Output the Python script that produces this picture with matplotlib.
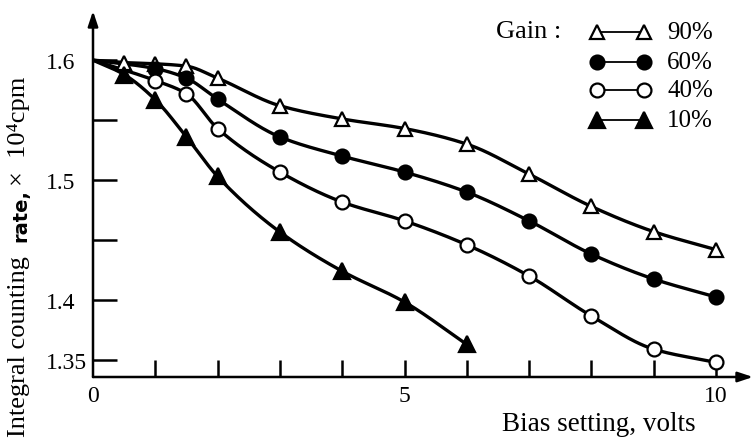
import numpy as np
import matplotlib
matplotlib.use("Agg")
import matplotlib.pyplot as plt
from matplotlib.lines import Line2D

# ---- data ----
x90 = [0, 0.5, 1, 1.5, 2, 3, 4, 5, 6, 7, 8, 9, 10]
y90 = [1.600, 1.598, 1.597, 1.595, 1.585, 1.562, 1.551, 1.543, 1.530, 1.505, 1.478, 1.457, 1.442]
x60 = [0, 1, 1.5, 2, 3, 4, 5, 6, 7, 8, 9, 10]
y60 = [1.600, 1.593, 1.585, 1.5675, 1.536, 1.520, 1.5067, 1.490, 1.466, 1.4383, 1.4175, 1.4025]
x40 = [0, 1, 1.5, 2, 3, 4, 5, 6, 7, 8, 9, 10]
y40 = [1.600, 1.583, 1.572, 1.543, 1.5067, 1.4817, 1.466, 1.446, 1.420, 1.3867, 1.359, 1.348]
x10 = [0, 0.5, 1, 1.5, 2, 3, 4, 5, 6]
y10 = [1.600, 1.588, 1.567, 1.536, 1.503, 1.4567, 1.424, 1.3983, 1.363]
series_labels = ["90%", "60%", "40%", "10%"]
yticks_major = [1.35, 1.4, 1.5, 1.6]
yticks_minor = [1.45, 1.55]
xticks = [1, 2, 3, 4, 5, 6, 7, 8, 9, 10]
xtick_labels = {0: "0", 5: "5", 10: "10"}


def pchip(x, y, n=40):
    x = np.asarray(x, float); y = np.asarray(y, float)
    h = np.diff(x); d = np.diff(y) / h
    m = np.zeros_like(y)
    for k in range(1, len(x) - 1):
        if d[k - 1] * d[k] <= 0:
            m[k] = 0
        else:
            w1 = 2 * h[k] + h[k - 1]; w2 = h[k] + 2 * h[k - 1]
            m[k] = (w1 + w2) / (w1 / d[k - 1] + w2 / d[k])
    m[0] = d[0]; m[-1] = d[-1]
    xs, ys = [], []
    for k in range(len(x) - 1):
        t = np.linspace(0, 1, n, endpoint=False)
        h00 = 2*t**3 - 3*t**2 + 1; h10 = t**3 - 2*t**2 + t
        h01 = -2*t**3 + 3*t**2; h11 = t**3 - t**2
        xs.append(x[k] + t*h[k])
        ys.append(h00*y[k] + h10*h[k]*m[k] + h01*y[k+1] + h11*h[k]*m[k+1])
    xs.append([x[-1]]); ys.append([y[-1]])
    return np.concatenate(xs), np.concatenate(ys)


W, H = 753, 439
fig = plt.figure(figsize=(W/100, H/100), dpi=100)
ax = fig.add_axes([93/W, 61/H, (W-93)/W, 366/H])
ax.set_xlim(0, 660/62.3)
ax.set_ylim(1.3358, 1.641)

serif = ["Liberation Serif", "DejaVu Serif"]

styles = [
    (x90, y90, dict(marker="^", mfc="white", ms=10)),
    (x60, y60, dict(marker="o", mfc="black", ms=10)),
    (x40, y40, dict(marker="o", mfc="white", ms=10)),
    (x10, y10, dict(marker="^", mfc="black", ms=11)),
]
for xs, ys, st in styles:
    sx, sy = pchip(xs, ys)
    ax.plot(sx, sy, color="black", lw=2.4, solid_capstyle="round", zorder=2)
    ax.plot(xs[1:], ys[1:], ls="none", marker=st["marker"], mfc=st["mfc"],
            mec="black", mew=1.6, ms=st["ms"], zorder=3)

for s in ax.spines.values():
    s.set_visible(False)
# axes with arrows
ax.annotate("", xy=(0, 1.0), xytext=(0, 0), xycoords="axes fraction",
            arrowprops=dict(arrowstyle="-|>,head_length=0.9,head_width=0.3",
                            lw=1.8, color="black", shrinkA=0, shrinkB=0), annotation_clip=False)
ax.annotate("", xy=(1.0, 0), xytext=(0, 0), xycoords="axes fraction",
            arrowprops=dict(arrowstyle="-|>,head_length=0.9,head_width=0.3",
                            lw=1.8, color="black", shrinkA=0, shrinkB=0), annotation_clip=False)

ax.set_yticks(yticks_major + yticks_minor)
ax.set_yticklabels([str(v) for v in yticks_major] + ["", ""])
ax.tick_params(axis="y", direction="in", length=17, width=1.8, pad=34,
               labelsize=17)
for lab in ax.get_yticklabels():
    lab.set_horizontalalignment("left")
    lab.set_fontfamily(serif)
ax.set_xticks([0] + xticks)
ax.set_xticklabels([xtick_labels.get(v, "") for v in [0] + xticks])
ax.tick_params(axis="x", direction="in", length=12, width=1.8, pad=6,
               labelsize=17)
for lab in ax.get_xticklabels():
    lab.set_fontfamily(serif)
ax.xaxis.get_major_ticks()[0].tick1line.set_visible(False)

# axis labels
fig.text(502/W, 1-425/H, "Bias setting, volts", ha="left", va="center",
         fontsize=19.5, family=serif)
fig.text(19/W, 1-437/H, "Integral counting", rotation=90, ha="center", va="bottom",
         fontsize=19, family=serif)
fig.text(21/W, 1-242/H, "rate,", rotation=90, ha="center", va="bottom",
         fontsize=14, family=["DejaVu Sans"], fontweight="bold")
fig.text(19/W, 1-186/H, "×  10⁴cpm", rotation=90, ha="center", va="bottom",
         fontsize=19, family=serif)

# legend
fig.text(496/W, 1-32/H, "Gain :", ha="left", va="center", fontsize=19, family=serif)
rows = [33, 63, 91, 121]
for (xs, ys, st), lab, ry in zip(styles, series_labels, rows):
    yy = 1 - ry/H
    fig.add_artist(Line2D([597/W, 644/W], [yy, yy], color="black", lw=1.3,
                          marker=st["marker"], mfc=st["mfc"], mec="black",
                          mew=1.6, ms=st["ms"]))
    fig.text(667/W, yy, lab, ha="left", va="center", fontsize=18, family=serif)

fig.savefig("out.png", dpi=100)
